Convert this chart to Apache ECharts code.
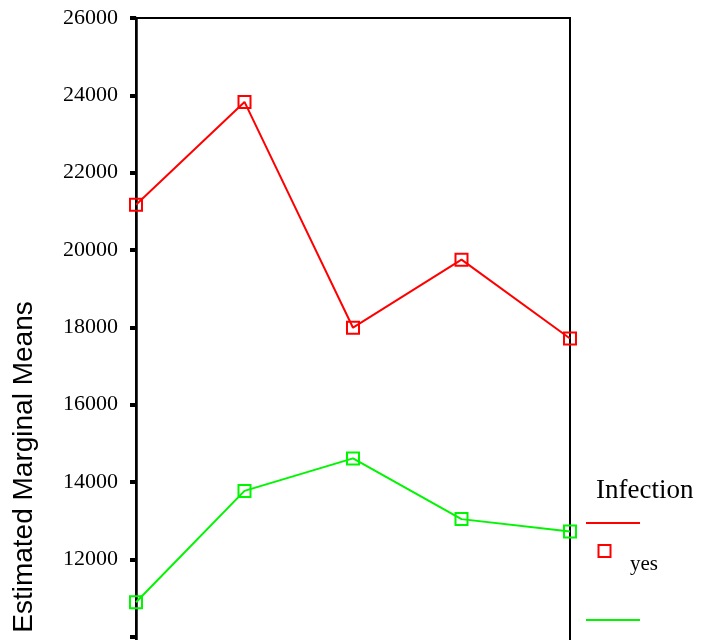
<!DOCTYPE html>
<html>
<head>
<meta charset="utf-8">
<title>Estimated Marginal Means</title>
<script src="https://cdn.jsdelivr.net/npm/echarts/dist/echarts.min.js"></script>
<style>
    html, body { margin: 0; padding: 0; background: #fff; }
    #main { width: 701px; height: 640px; }
</style>
</head>
<body>
<div id="main"></div>
<script>
// data
var categories = ['1', '2', '3', '4', '5'];
var infYes = [21170, 23830, 17990, 19750, 17710];
var infNo = [10890, 13770, 14610, 13040, 12720];
var yTicks = { min: 8000, max: 26000, interval: 2000, firstLabel: 12000 };
var yTitle = 'Estimated Marginal Means';
var legendTitle = 'Infection';
var groupNames = ['yes', 'no'];
var groupColors = ['#ff0000', '#00f500'];

var myChart = echarts.init(document.getElementById('main'));

// legend is hand placed: line on top, box below, label offset to the right
var legendItems = [];
legendItems.push({
    type: 'text',
    left: 596,
    top: 477,
    style: {
        text: legendTitle,
        font: '27px "Liberation Serif"',
        fill: '#000'
    }
});
for (var i = 0; i < groupNames.length; i++) {
    var y0 = 523 + i * 97;
    legendItems.push({
        type: 'line',
        shape: { x1: 586, y1: y0, x2: 640, y2: y0 },
        style: { stroke: groupColors[i], lineWidth: 2 }
    });
    legendItems.push({
        type: 'rect',
        shape: { x: 598.5, y: y0 + 22, width: 12, height: 12 },
        style: { fill: 'none', stroke: groupColors[i], lineWidth: 2 }
    });
    legendItems.push({
        type: 'text',
        left: 630,
        top: y0 + 31,
        style: {
            text: groupNames[i],
            font: '21px "Liberation Serif"',
            fill: '#000'
        }
    });
}
legendItems.push({
    type: 'text',
    x: 24,
    y: 467,
    rotation: Math.PI / 2,
    style: {
        text: yTitle,
        font: '28px "Liberation Sans"',
        fill: '#000',
        textAlign: 'center',
        textVerticalAlign: 'middle'
    }
});

function makeSeries(name, data, color) {
    return {
        name: name,
        type: 'line',
        data: data,
        symbol: 'rect',
        symbolSize: 12,
        showAllSymbol: true,
        z: 3,
        lineStyle: {
            color: color,
            width: 2
        },
        itemStyle: {
            color: 'rgba(0,0,0,0)',
            borderColor: color,
            borderWidth: 2
        },
        emphasis: { disabled: true }
    };
}

var option = {
    animation: false,
    grid: {
        left: 136,
        top: 18,
        width: 434,
        height: 696,
        containLabel: false,
        outerBoundsMode: 'none',
        show: true,
        borderColor: '#000',
        borderWidth: 2,
        backgroundColor: 'transparent'
    },
    xAxis: {
        type: 'category',
        data: categories,
        boundaryGap: false,
        axisLine: { lineStyle: { color: '#000', width: 2 } },
        axisTick: { show: false },
        axisLabel: { color: '#000' },
        splitLine: { show: false }
    },
    yAxis: {
        type: 'value',
        min: yTicks.min,
        max: yTicks.max,
        interval: yTicks.interval,
        axisLine: {
            show: true,
            lineStyle: { color: '#000', width: 2.5 }
        },
        axisTick: {
            show: true,
            inside: false,
            length: 6,
            lineStyle: { color: '#000', width: 4 }
        },
        axisLabel: {
            color: '#000',
            fontFamily: 'Liberation Serif',
            fontSize: 22,
            margin: 18,
            padding: [4, 0, 0, 0],
            formatter: function(v) {
                // the lowest labels fall below the cropped picture
                return v >= yTicks.firstLabel ? String(v) : '';
            }
        },
        splitLine: { show: false }
    },
    series: [
        makeSeries(groupNames[0], infYes, groupColors[0]),
        makeSeries(groupNames[1], infNo, groupColors[1])
    ],
    graphic: legendItems
};

myChart.setOption(option);
</script>
</body>
</html>
